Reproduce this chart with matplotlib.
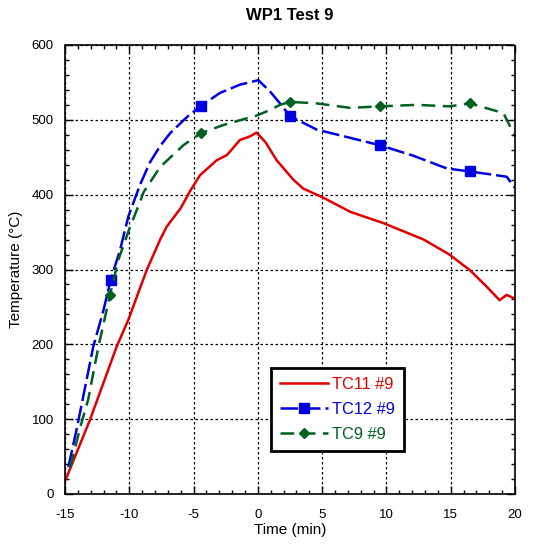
import matplotlib
matplotlib.use("Agg")
import matplotlib.pyplot as plt
from matplotlib.ticker import MultipleLocator
import numpy as np

plt.rcParams['font.family'] = ['Liberation Sans', 'DejaVu Sans']
plt.rcParams['axes.unicode_minus'] = False

# TC11 #9 (red)
tc11_t = [-15.0, -13.06, -10.98, -10.07, -8.65, -7.6, -7.1, -6.0, -5.3, -4.5, -3.2, -2.4, -1.4, -0.6, -0.1,
          0.6, 1.46, 2.76, 3.54, 4.97, 7.2, 9.76, 12.9, 14.9, 16.5, 17.8, 18.8, 19.35, 20.0]
tc11_v = [17, 99, 197, 233, 299, 340, 357, 382, 404, 426, 446, 453, 473, 478, 483,
          470, 446, 420, 408, 397, 377, 362, 340, 320, 299, 277, 259, 266, 261]

# TC12 #9 (blue)
tc12_t = [-14.74, -14.1, -12.8, -12.0, -11.45, -10.72, -10.07, -9.17, -8.4, -7.6, -6.83, -5.5, -4.4, -2.94, -1.39, 0.04,
          0.94, 1.72, 2.5, 4.57, 7.17, 9.5, 12.1, 14.7, 16.5, 19.35, 20.0]
tc12_v = [36, 86, 197, 246, 286, 326, 371, 413, 443, 465, 482, 504, 519, 536, 547, 553,
          538, 522, 505, 487, 476, 466, 452, 435, 431, 424, 409]

# TC9 #9 (green)
tc9_t = [-14.6, -13.8, -13.2, -12.4, -11.5, -10.85, -9.94, -9.17, -8.9, -7.6, -5.8, -4.45, -2.7, -0.87, -0.35, 0.94,
         1.72, 2.5, 4.57, 7.17, 9.5, 12.35, 14.9, 16.5, 19.1, 20.0]
tc9_v = [36, 90, 126, 197, 266, 313, 357, 390, 403, 437, 466, 482, 493, 502, 504, 513,
         520, 524, 522, 516, 518, 520, 518, 522, 509, 478]

marker_times = [-11.45, -4.4, 2.5, 9.5, 16.5]

fig = plt.figure(figsize=(5.36, 5.44), dpi=100)
ax = fig.add_axes([65/536, 1-494/544, 450/536, 449/544])

def idx(ts):
    return [int(np.argmin([abs(t - m) for t in ts])) for m in marker_times]

ax.plot(tc11_t, tc11_v, color='#e00000', lw=1.8, label='TC11 #9')
ax.plot(tc12_t, tc12_v, color='#0000e0', lw=1.8, dashes=(7, 2), marker='s', ms=7,
        markevery=idx(tc12_t), label='TC12 #9')
ax.plot(tc9_t, tc9_v, color='#006020', lw=1.8, dashes=(5.5, 3), marker='D', ms=5,
        markevery=idx(tc9_t), label='TC9 #9')

ax.set_xlim(-15, 20)
ax.set_ylim(0, 600)
ax.xaxis.set_major_locator(MultipleLocator(5))
ax.xaxis.set_minor_locator(MultipleLocator(1))
ax.yaxis.set_major_locator(MultipleLocator(100))
ax.yaxis.set_minor_locator(MultipleLocator(20))
ax.tick_params(which='both', direction='in', top=True, right=True, labelsize=9.5, width=1)
ax.tick_params(which='major', length=6)
ax.tick_params(which='minor', length=3)
ax.tick_params(axis='x', which='major', pad=11)
ax.tick_params(axis='y', which='major', pad=8)
ax.grid(True, which='major', color='black', ls=(0, (2, 2)), lw=0.9)
for s in ax.spines.values():
    s.set_linestyle((0, (2, 1)))
    s.set_linewidth(1.2)

ax.set_xlabel('Time (min)', fontsize=11, labelpad=1)
ax.set_ylabel('Temperature (°C)', fontsize=11, labelpad=6)
ax.set_title('WP1 Test 9', fontsize=12, fontweight='bold', pad=18)

leg = ax.legend(loc='lower left', bbox_to_anchor=(206/450, 43/449), borderaxespad=0,
                fontsize=11.8, fancybox=False, framealpha=1, edgecolor='black',
                handlelength=2.9, handletextpad=0.25, borderpad=0.55, labelspacing=0.62)
leg.get_frame().set_linewidth(2)
for text, c in zip(leg.get_texts(), ['#e00000', '#0000e0', '#006020']):
    text.set_color(c)

fig.savefig('out.png', dpi=100)
